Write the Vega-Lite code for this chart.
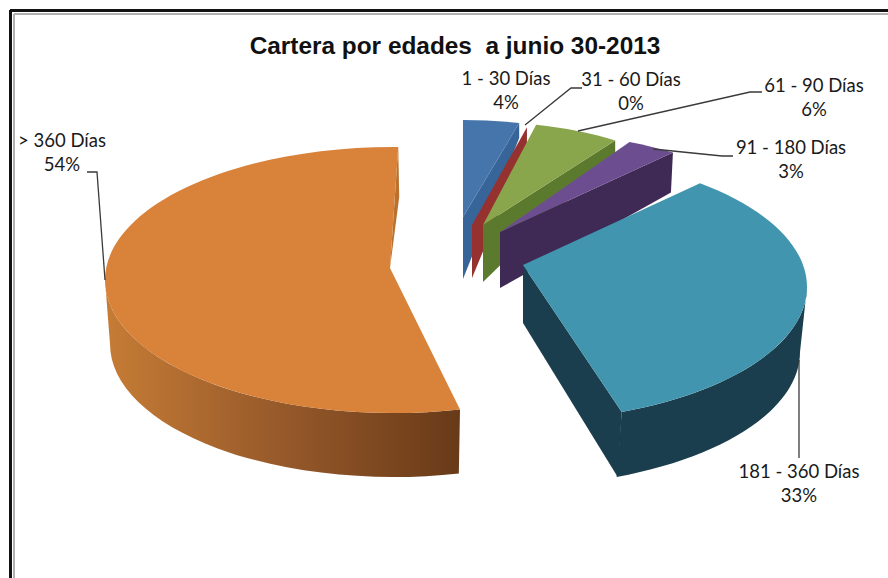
{
  "$schema": "https://vega.github.io/schema/vega-lite/v6.json",
  "width": 888,
  "height": 578,
  "padding": 0,
  "autosize": "none",
  "background": "white",
  "config": {"view": {"stroke": null}},
  "title": {
    "text": "Cartera por edades \u00a0a junio 30-2013",
    "font": "Liberation Sans",
    "fontWeight": "bold",
    "fontSize": 24.4,
    "color": "#111111",
    "anchor": "middle",
    "baseline": "alphabetic",
    "offset": 0,
    "dx": 11,
    "dy": 78
  },
  "params": [
    {
      "name": "sliceGeometry",
      "value": {
        "1 - 30 Días": {"cx": 463, "cy": 217, "ex": 0, "ey": 0, "A": 226, "B": 97, "turn": 0, "dTip": 62, "dEdge": 15, "dxEdge": 0, "dOuter": 0, "dxOuter": 0, "dA": 0, "lx": 506, "ly": 85},
        "31 - 60 Días": {"cx": 472, "cy": 225, "ex": 0, "ey": 0, "A": 221, "B": 101, "turn": 0, "dTip": 53, "dEdge": 18, "dxEdge": 0, "dOuter": 0, "dxOuter": 0, "dA": 0, "lx": 631, "ly": 86, "lead": "M525,125L571,88L582,88"},
        "61 - 90 Días": {"cx": 483, "cy": 225, "ex": 0, "ey": 0, "A": 231, "B": 103, "turn": -1.1, "dTip": 57, "dEdge": 13, "dxEdge": 0, "dOuter": 0, "dxOuter": 0, "dA": 0, "lx": 814, "ly": 92, "lead": "M578,131L750,92L762,92"},
        "91 - 180 Días": {"cx": 500, "cy": 232, "ex": 0, "ey": 0, "A": 276, "B": 102, "turn": -8, "dTip": 56, "dEdge": 40, "dxEdge": -2, "dOuter": 0, "dxOuter": 0, "dA": 0, "lx": 791, "ly": 154, "lead": "M653,149L722,156L733,156"},
        "181 - 360 Días": {"cx": 523, "cy": 265, "ex": -10, "ey": 22, "A": 294, "B": 134.6, "turn": -7.3, "dTip": 58, "dEdge": 65, "dxEdge": -4, "dOuter": 65, "dxOuter": -4, "dA": 3, "lx": 799, "ly": 478, "lead": "M799,360L799,458"},
        "> 360 Días": {"cx": 390, "cy": 268, "ex": 3.2, "ey": 12, "A": 288.2, "B": 133, "turn": 1, "dTip": 0, "dEdge": 50, "dxEdge": 1, "dOuter": 64, "dxOuter": 0, "dA": 5, "lx": 62, "ly": 147, "lead": "M87,172L97,172L105,280"}
      }
    }
  ],
  "data": {
    "values": [
      {"category": "1 - 30 Días", "value": 4},
      {"category": "31 - 60 Días", "value": 0},
      {"category": "61 - 90 Días", "value": 6},
      {"category": "91 - 180 Días", "value": 3},
      {"category": "181 - 360 Días", "value": 33},
      {"category": "> 360 Días", "value": 54}
    ]
  },
  "transform": [
    {"stack": "value", "groupby": [], "as": ["v0", "v1"]},
    {"calculate": "sliceGeometry[datum.category]", "as": "g"},
    {"calculate": "datum.g.cx", "as": "cx"},
    {"calculate": "datum.g.cy", "as": "cy"},
    {"calculate": "(datum.v0 * 3.6 + datum.g.turn) * PI / 180", "as": "a0"},
    {"calculate": "(datum.v1 * 3.6 + datum.g.turn) * PI / 180", "as": "a1"},
    {"calculate": "round(100 * (datum.g.ex + datum.g.A * sin(datum.a0))) / 100", "as": "x0"},
    {"calculate": "round(100 * (datum.g.ey - datum.g.B * cos(datum.a0))) / 100", "as": "y0"},
    {"calculate": "round(100 * (datum.g.ex + datum.g.A * sin(datum.a1))) / 100", "as": "x1"},
    {"calculate": "round(100 * (datum.g.ey - datum.g.B * cos(datum.a1))) / 100", "as": "y1"},
    {"calculate": "'M0,0L' + datum.x0 + ',' + datum.y0 + (datum.value > 0 ? 'A' + datum.g.A + ',' + datum.g.B + ' 0 ' + (datum.value > 50 ? 1 : 0) + ' 1 ' + datum.x1 + ',' + datum.y1 : '') + 'Z'", "as": "topPath"},
    {"calculate": "'M0,0L' + datum.x1 + ',' + datum.y1 + 'L' + (datum.x1 + datum.g.dxEdge) + ',' + (datum.y1 + datum.g.dEdge) + 'L0,' + datum.g.dTip + 'Z'", "as": "edgePath"},
    {"calculate": "max(datum.a0, PI / 2)", "as": "f0"},
    {"calculate": "min(datum.a1, 3 * PI / 2)", "as": "f1"},
    {"calculate": "datum.g.A - datum.g.dA", "as": "lowA"},
    {"calculate": "datum.g.ex + datum.g.dxOuter", "as": "lowX"},
    {"calculate": "datum.g.ey + datum.g.dOuter", "as": "lowY"},
    {"calculate": "datum.f1 > datum.f0 ? 'M' + round(100 * (datum.g.ex + datum.g.A * sin(datum.f0))) / 100 + ',' + round(100 * (datum.g.ey - datum.g.B * cos(datum.f0))) / 100 + 'A' + datum.g.A + ',' + datum.g.B + ' 0 0 1 ' + round(100 * (datum.g.ex + datum.g.A * sin(datum.f1))) / 100 + ',' + round(100 * (datum.g.ey - datum.g.B * cos(datum.f1))) / 100 + 'L' + round(100 * (datum.lowX + datum.lowA * sin(datum.f1))) / 100 + ',' + round(100 * (datum.lowY - datum.g.B * cos(datum.f1))) / 100 + 'A' + datum.lowA + ',' + datum.g.B + ' 0 0 0 ' + round(100 * (datum.lowX + datum.lowA * sin(datum.f0))) / 100 + ',' + round(100 * (datum.lowY - datum.g.B * cos(datum.f0))) / 100 + 'Z' : ''", "as": "outerPath"},
    {"calculate": "datum.category + '\\n' + datum.value + '%'", "as": "labelText"}
  ],
  "encoding": {
    "x": {"field": "cx", "type": "quantitative", "axis": null, "scale": {"domain": [0, 888], "range": [0, 888], "nice": false, "zero": false}},
    "y": {"field": "cy", "type": "quantitative", "axis": null, "scale": {"domain": [0, 578], "range": [0, 578], "nice": false, "zero": false}}
  },
  "resolve": {"scale": {"fill": "independent"}},
  "layer": [
    {
      "mark": {"type": "rule", "color": "#111111", "strokeWidth": 2},
      "encoding": {"x": {"datum": 10.5}, "y": {"datum": 10}, "y2": {"datum": 578}}
    },
    {
      "mark": {"type": "rule", "color": "#111111", "strokeWidth": 2},
      "encoding": {"x": {"datum": 10}, "x2": {"datum": 888}, "y": {"datum": 10.5}}
    },
    {
      "mark": {"type": "rule", "color": "#b0b0b0", "strokeWidth": 2},
      "encoding": {"x": {"datum": 14}, "y": {"datum": 14}, "y2": {"datum": 578}}
    },
    {
      "mark": {"type": "rule", "color": "#b0b0b0", "strokeWidth": 2},
      "encoding": {"x": {"datum": 14}, "x2": {"datum": 888}, "y": {"datum": 14}}
    },
    {
      "mark": {"type": "point", "filled": true, "size": 4, "opacity": 1},
      "encoding": {
        "shape": {"field": "edgePath", "type": "nominal", "scale": null},
        "fill": {
          "field": "category",
          "type": "nominal",
          "legend": null,
          "scale": {
            "domain": ["1 - 30 Días", "31 - 60 Días", "61 - 90 Días", "91 - 180 Días", "181 - 360 Días", "> 360 Días"],
            "range": ["#37659a", "#953230", "#5c7a2e", "#3f2a55", "#1a3e4d", "#b9722e"]
          }
        }
      }
    },
    {
      "transform": [{"filter": "datum.category === '181 - 360 Días'"}],
      "mark": {"type": "point", "filled": true, "size": 4, "opacity": 1, "fill": "#1a3e4d"},
      "encoding": {"shape": {"field": "outerPath", "type": "nominal", "scale": null}}
    },
    {
      "transform": [{"filter": "datum.category === '> 360 Días'"}],
      "mark": {
        "type": "point",
        "filled": true,
        "size": 4,
        "opacity": 1,
        "fill": {
          "gradient": "linear",
          "x1": 0,
          "y1": 0,
          "x2": 1,
          "y2": 0,
          "stops": [
            {"offset": 0, "color": "#c67c35"},
            {"offset": 0.5, "color": "#96592a"},
            {"offset": 1, "color": "#683a18"}
          ]
        }
      },
      "encoding": {"shape": {"field": "outerPath", "type": "nominal", "scale": null}}
    },
    {
      "mark": {"type": "point", "filled": true, "size": 4, "opacity": 1},
      "encoding": {
        "shape": {"field": "topPath", "type": "nominal", "scale": null},
        "fill": {
          "field": "category",
          "type": "nominal",
          "legend": null,
          "scale": {
            "domain": ["1 - 30 Días", "31 - 60 Días", "61 - 90 Días", "91 - 180 Días", "181 - 360 Días", "> 360 Días"],
            "range": ["#4575ab", "#a0332f", "#8aa64c", "#6c4e90", "#4195ae", "#d8823a"]
          }
        }
      }
    },
    {
      "transform": [
        {"filter": "datum.g.lead"},
        {"calculate": "datum.g.lead", "as": "leadPath"}
      ],
      "mark": {"type": "point", "filled": false, "size": 4, "opacity": 1, "stroke": "#3a3a3a", "strokeWidth": 1.3},
      "encoding": {
        "x": {"datum": 0},
        "y": {"datum": 0},
        "shape": {"field": "leadPath", "type": "nominal", "scale": null}
      }
    },
    {
      "transform": [
        {"calculate": "datum.g.lx", "as": "lx"},
        {"calculate": "datum.g.ly", "as": "ly"}
      ],
      "mark": {"type": "text", "font": "Lato", "fontSize": 18.5, "lineBreak": "\n", "lineHeight": 24, "align": "center", "baseline": "alphabetic", "color": "#1a1a1a"},
      "encoding": {
        "x": {"field": "lx", "type": "quantitative"},
        "y": {"field": "ly", "type": "quantitative"},
        "text": {"field": "labelText", "type": "nominal"}
      }
    }
  ]
}
